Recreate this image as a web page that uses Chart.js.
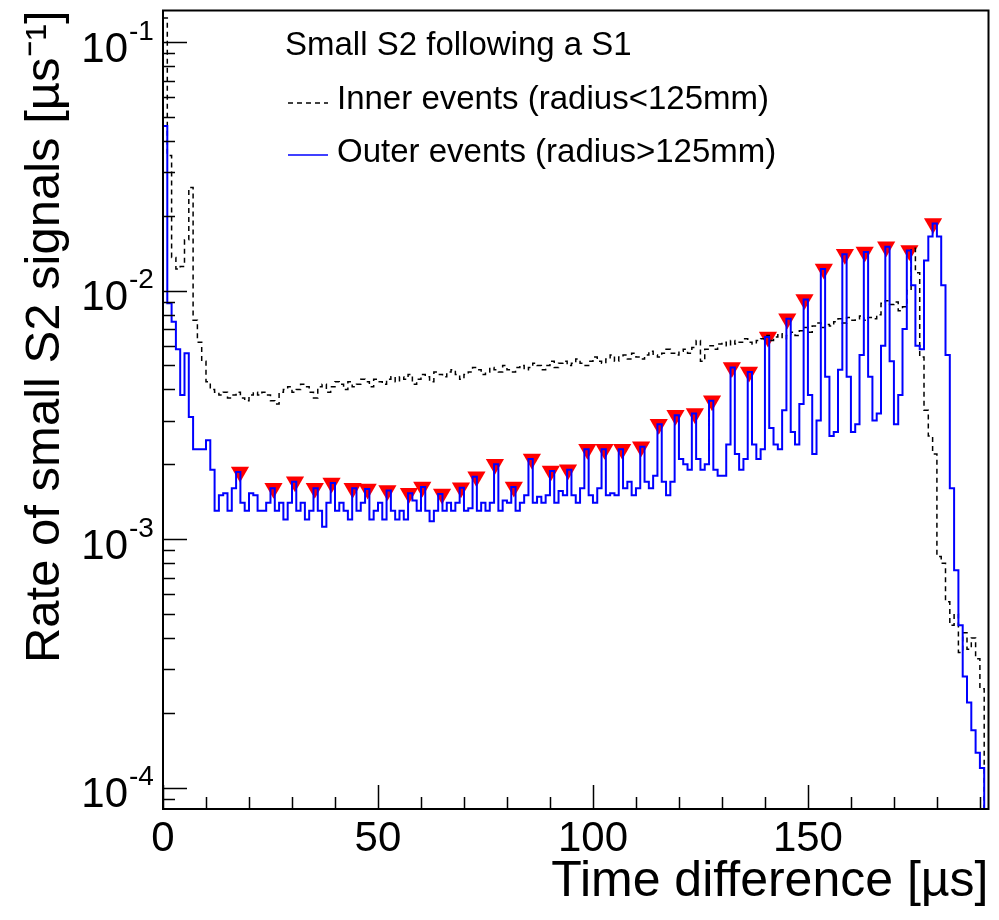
<!DOCTYPE html>
<html>
<head>
<meta charset="utf-8">
<script src="https://cdn.jsdelivr.net/npm/chart.js@4.4.1/dist/chart.umd.min.js"></script>
<style>
  html, body { margin: 0; padding: 0; background: #fff; }
</style>
</head>
<body>
<canvas id="chart" width="999" height="920"></canvas>
<script>
// histograms in 1 us bins starting at 0 us
const binWidth = 1;

// inner events (radius < 125 mm), rate per bin [1/us]
const innerRate = [
    0.125, 0.035, 0.0136, 0.0122, 0.0125, 0.016, 0.026, 0.0076, 0.0062, 0.0052,
    0.0043, 0.004, 0.0039, 0.0038, 0.0039, 0.0037, 0.0038, 0.0039, 0.0037, 0.0036,
    0.0038, 0.0039, 0.0038, 0.0039, 0.0038, 0.0036, 0.0035, 0.0039, 0.004, 0.0041,
    0.0039, 0.004, 0.0042, 0.0041, 0.0039, 0.0037, 0.0041, 0.0042, 0.0039, 0.0041,
    0.0043, 0.0042, 0.004, 0.0043, 0.0041, 0.0042, 0.0044, 0.0043, 0.0041, 0.0044,
    0.0043, 0.0042, 0.0044, 0.0045, 0.0043, 0.0045, 0.0044, 0.0046, 0.0042, 0.0044,
    0.0046, 0.0045, 0.0043, 0.0047, 0.0046, 0.0045, 0.0047, 0.0048, 0.0046, 0.0044,
    0.0046, 0.0047, 0.0049, 0.0048, 0.0046, 0.0047, 0.0049, 0.0048, 0.0047, 0.005,
    0.0048, 0.0047, 0.0049, 0.005, 0.0048, 0.0049, 0.0051, 0.005, 0.0048, 0.005,
    0.0052, 0.0049, 0.0051, 0.0052, 0.005, 0.0051, 0.0053, 0.0051, 0.005, 0.0052,
    0.0054, 0.0052, 0.0051, 0.0053, 0.0055, 0.0052, 0.0054, 0.0055, 0.0053, 0.0056,
    0.0054, 0.0053, 0.0055, 0.0057, 0.0055, 0.0054, 0.0056, 0.0058, 0.0056, 0.0055,
    0.0057, 0.0058, 0.0056, 0.0059, 0.0063, 0.0052, 0.0058, 0.006, 0.0058, 0.0061,
    0.0062, 0.006, 0.0063, 0.0061, 0.0062, 0.0064, 0.0062, 0.0061, 0.0063, 0.0064,
    0.0066, 0.0063, 0.0065, 0.0067, 0.0064, 0.0066, 0.0068, 0.0066, 0.0069, 0.0071,
    0.0068, 0.0072, 0.0074, 0.0071, 0.0073, 0.0072, 0.0075, 0.0077, 0.0074, 0.0078,
    0.0076, 0.0077, 0.0079, 0.0076, 0.0078, 0.0077, 0.008, 0.0089, 0.0091, 0.0088,
    0.009, 0.0083, 0.0086, 0.01, 0.0148, 0.0118, 0.0054, 0.0033, 0.0026, 0.0022,
    0.00085, 0.0008, 0.00056, 0.00045, 0.0005, 0.00035, 0.00042, 0.00036, 0.0004, 0.00033,
    0.00025, 0.00006
];

// outer events (radius > 125 mm)
const outerRate = [
    0.046, 0.0089, 0.0075, 0.0058, 0.0038, 0.0056, 0.0031, 0.0023, 0.0023, 0.0023,
    0.0025, 0.0019, 0.0013, 0.0015, 0.00153, 0.0013, 0.0016, 0.00186, 0.0014, 0.0013,
    0.00153, 0.0015, 0.0013, 0.0013, 0.0014, 0.0016, 0.0013, 0.0014, 0.0012, 0.0014,
    0.0017, 0.0013, 0.0014, 0.0012, 0.0013, 0.0016, 0.0013, 0.00112, 0.0014, 0.00168,
    0.0013, 0.0014, 0.0013, 0.0012, 0.0016, 0.0013, 0.0014, 0.00159, 0.0012, 0.0013,
    0.0014, 0.0012, 0.00157, 0.0013, 0.0012, 0.0013, 0.0012, 0.00153, 0.00143, 0.0013,
    0.00162, 0.0013, 0.00118, 0.0013, 0.00152, 0.0013, 0.0014, 0.0013, 0.0014, 0.00161,
    0.0013, 0.00133, 0.00178, 0.0013, 0.0014, 0.0013, 0.0014, 0.002, 0.0013, 0.00143,
    0.0014, 0.00162, 0.0013, 0.0014, 0.0015, 0.0021, 0.0014, 0.00148, 0.0014, 0.0015,
    0.00188, 0.0014, 0.00156, 0.0015, 0.0019, 0.0015, 0.0014, 0.0016, 0.0023, 0.0015,
    0.0014, 0.0016, 0.0023, 0.0015, 0.00153, 0.0015, 0.0023, 0.0016, 0.0017, 0.0015,
    0.0016, 0.00235, 0.0017, 0.0016, 0.0018, 0.0029, 0.0017, 0.0015, 0.0017, 0.00315,
    0.0021, 0.002, 0.0019, 0.0032, 0.0021, 0.0019, 0.002, 0.0036, 0.0019, 0.0018,
    0.0018, 0.0024, 0.0049, 0.0022, 0.0019, 0.0021, 0.0047, 0.0024, 0.0021, 0.0023,
    0.0065, 0.0028, 0.0024, 0.0023, 0.0033, 0.0077, 0.0027, 0.0024, 0.0035, 0.0092,
    0.0038, 0.0022, 0.003, 0.0122, 0.0045, 0.0026, 0.0027, 0.0048, 0.014, 0.0045,
    0.0027, 0.0029, 0.0055, 0.0143, 0.0045, 0.003, 0.0032, 0.006, 0.015, 0.0052,
    0.0029, 0.0038, 0.007, 0.0145, 0.0105, 0.006, 0.0058, 0.0132, 0.0165, 0.0186,
    0.0165, 0.0105, 0.0055, 0.0016, 0.00075, 0.00045, 0.00028, 0.00022, 0.00017, 0.000138,
    0.00012, 0.00006
];

// peaks found in the outer histogram (red markers)
const peakTime = [
    17.9, 25.7, 30.7, 35.3, 39.2, 44.1, 47.6, 52.2, 57.2, 60.3,
    64.9, 69.3, 72.9, 77.2, 81.6, 85.8, 90.2, 94.2, 98.7, 102.7,
    106.8, 111.2, 115.3, 119.2, 123.7, 127.7, 132.3, 136.3, 140.7, 145.2,
    149.2, 153.7, 158.6, 163.2, 168.2, 173.6, 179.1
];
const peakRate = [
    0.00186, 0.0016, 0.0017, 0.0016, 0.00168, 0.0016, 0.00159, 0.00157, 0.00153, 0.00162,
    0.00152, 0.00161, 0.00178, 0.002, 0.00162, 0.0021, 0.00188, 0.0019, 0.0023, 0.0023,
    0.0023, 0.00235, 0.0029, 0.00315, 0.0032, 0.0036, 0.0049, 0.0047, 0.0065, 0.0077,
    0.0092, 0.0122, 0.014, 0.0143, 0.015, 0.0145, 0.0186
];

const xTicks = [0, 50, 100, 150];
const yTicks = [1e-4, 1e-3, 1e-2, 1e-1];
const yTickExp = ["-4", "-3", "-2", "-1"];
const legendTitle = "Small S2 following a S1";
const legendLabels = ["Inner events (radius<125mm)", "Outer events (radius>125mm)"];

const FONT = '"Liberation Sans", Arial, sans-serif';
Chart.defaults.font.family = FONT;
Chart.defaults.color = "#000";

// histogram -> step points (left edge of each bin + closing edge)
const toSteps = (rates) => {
    const pts = rates.map((r, i) => ({ x: i * binWidth, y: r }));
    pts.push({ x: rates.length * binWidth, y: rates[rates.length - 1] });
    return pts;
};

// ROOT-like frame with inward ticks and 10^n labels
const framePlugin = {
    id: "frame",
    afterDatasetsDraw(chart) {
        const { ctx, chartArea: a } = chart;
        const xs = chart.scales.x, ys = chart.scales.y;
        ctx.save();
        ctx.strokeStyle = "#000";
        ctx.lineWidth = 1.5;
        ctx.beginPath();
        for (let e = -5; e <= 0; e++) {
            for (let d = 1; d <= 9; d++) {
                const v = d * Math.pow(10, e);
                if (v < ys.min || v > ys.max) continue;
                const py = Math.round(ys.getPixelForValue(v)) + 0.5;
                ctx.moveTo(a.left, py);
                ctx.lineTo(a.left + (d === 1 ? 24 : 12), py);
            }
        }
        for (let t = 0; t <= xs.max; t += 10) {
            const px = Math.round(xs.getPixelForValue(t)) + 0.5;
            ctx.moveTo(px, a.bottom);
            ctx.lineTo(px, a.bottom - (t % 50 === 0 ? 24 : 12));
        }
        ctx.stroke();
        ctx.lineWidth = 2;
        ctx.strokeRect(a.left, a.top, a.right - a.left, a.bottom - a.top);

        // y labels: "10" with a raised exponent
        ctx.fillStyle = "#000";
        ctx.textBaseline = "middle";
        yTicks.forEach((v, i) => {
            const py = ys.getPixelForValue(v);
            ctx.font = "42px " + FONT;
            ctx.textAlign = "right";
            ctx.fillText("10", 128, py + 8);
            ctx.font = "28px " + FONT;
            ctx.textAlign = "left";
            ctx.fillText(yTickExp[i], 129, py - 10);
        });
        ctx.restore();
    }
};

const legendPlugin = {
    id: "histLegend",
    afterDraw(chart) {
        const ctx = chart.ctx;
        ctx.save();
        ctx.font = "33px " + FONT;
        ctx.fillStyle = "#000";
        ctx.textBaseline = "middle";
        ctx.fillText(legendTitle, 285, 46);
        ctx.fillText(legendLabels[0], 337, 100);
        ctx.fillText(legendLabels[1], 337, 153);
        ctx.lineWidth = 1.5;
        ctx.strokeStyle = "#000";
        ctx.setLineDash([5, 4]);
        ctx.beginPath();
        ctx.moveTo(288, 103);
        ctx.lineTo(328, 103);
        ctx.stroke();
        ctx.setLineDash([]);
        ctx.strokeStyle = "#0000ff";
        ctx.beginPath();
        ctx.moveTo(288, 155);
        ctx.lineTo(328, 155);
        ctx.stroke();
        ctx.restore();
    }
};

new Chart("chart", {
    type: "line",
    data: {
        datasets: [{
            label: legendLabels[1],
            data: toSteps(outerRate),
            stepped: true,
            borderColor: "#0000ff",
            borderWidth: 2,
            pointRadius: 0,
            fill: false,
            order: 1
        }, {
            label: legendLabels[0],
            data: toSteps(innerRate),
            stepped: true,
            borderColor: "#000000",
            borderWidth: 1.5,
            borderDash: [5, 4],
            pointRadius: 0,
            fill: false,
            order: 2
        }, {
            label: "peaks",
            data: peakTime.map((t, i) => ({ x: t, y: peakRate[i] })),
            showLine: false,
            pointStyle: "triangle",
            rotation: 180,
            pointRadius: 10.5,
            pointBackgroundColor: "#ff0000",
            pointBorderWidth: 0,
            order: 3
        }]
    },
    options: {
        responsive: false,
        animation: false,
        devicePixelRatio: 1,
        layout: { padding: { top: 9, right: 4, bottom: 0, left: 0 } },
        plugins: {
            legend: { display: false },
            tooltip: { enabled: false }
        },
        scales: {
            x: {
                type: "linear",
                min: 0,
                max: 192,
                afterFit: (scale) => {
                    scale.height = 111;
                    scale.paddingLeft = 0;
                    scale.paddingRight = 0;
                },
                afterBuildTicks: (scale) => { scale.ticks = xTicks.map(v => ({ value: v })); },
                grid: { display: false, drawTicks: false },
                border: { display: false },
                ticks: {
                    autoSkip: false,
                    maxRotation: 0,
                    padding: 5,
                    font: { size: 42 },
                    callback: (v) => String(v)
                },
                title: {
                    display: true,
                    text: "Time difference [\u00B5s]",
                    align: "end",
                    font: { size: 50 },
                    padding: { top: 0, bottom: 8 }
                }
            },
            y: {
                type: "logarithmic",
                min: 8.2e-5,
                max: 0.134,
                afterFit: (scale) => {
                    scale.width = 163;
                    scale.paddingTop = 0;
                    scale.paddingBottom = 0;
                },
                afterBuildTicks: (scale) => { scale.ticks = yTicks.map(v => ({ value: v })); },
                grid: { display: false, drawTicks: false },
                border: { display: false },
                ticks: { display: false },
                title: {
                    display: true,
                    text: "Rate of small S2 signals [\u00B5s\u207B\u00B9]",
                    align: "end",
                    font: { size: 49 },
                    padding: { top: 16, bottom: 0 }
                }
            }
        }
    },
    plugins: [framePlugin, legendPlugin]
});
</script>
</body>
</html>
